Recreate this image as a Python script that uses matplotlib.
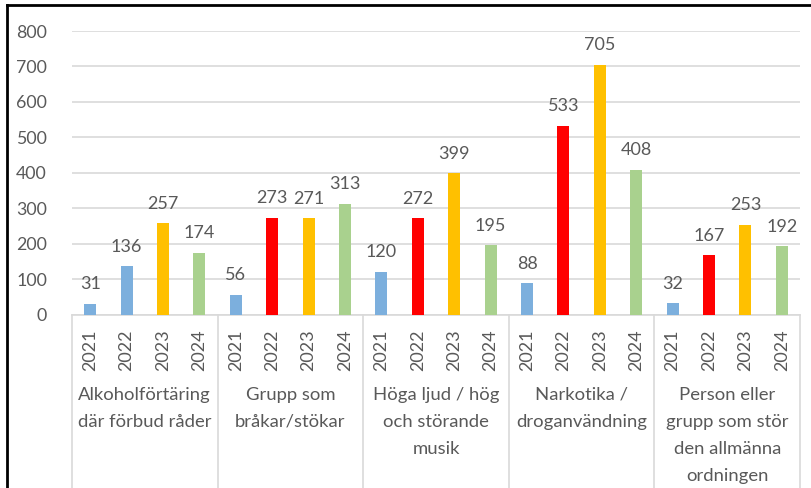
import matplotlib
matplotlib.use("Agg")
import matplotlib.pyplot as plt
from matplotlib.lines import Line2D

categories = [
    "Alkoholförtäring\ndär förbud råder",
    "Grupp som\nbråkar/stökar",
    "Höga ljud / hög\noch störande\nmusik",
    "Narkotika /\ndroganvändning",
    "Person eller\ngrupp som stör\nden allmänna\nordningen",
]
years = ["2021", "2022", "2023", "2024"]
values = [
    [31, 136, 257, 174],
    [56, 273, 271, 313],
    [120, 272, 399, 195],
    [88, 533, 705, 408],
    [32, 167, 253, 192],
]
# first group has 2022 in blue, the rest red
barColors = [
    ["#7CAFDD", "#7CAFDD", "#FFC000", "#A9D18E"],
    ["#7CAFDD", "#FF0000", "#FFC000", "#A9D18E"],
    ["#7CAFDD", "#FF0000", "#FFC000", "#A9D18E"],
    ["#7CAFDD", "#FF0000", "#FFC000", "#A9D18E"],
    ["#7CAFDD", "#FF0000", "#FFC000", "#A9D18E"],
]

TEXT = "#595959"
GRID = "#D9D9D9"
W, H = 811, 488

plt.rcParams["font.family"] = ["Lato", "DejaVu Sans"]
plt.rcParams["font.size"] = 12.8

fig = plt.figure(figsize=(W / 100, H / 100), dpi=100)
axTop, axBottom = 31, 314.5
ax = fig.add_axes([72 / W, (H - axBottom) / H, (800 - 72) / W, (axBottom - axTop) / H])

xs, hs, cs, ticks = [], [], [], []
for g, vals in enumerate(values):
    for i, v in enumerate(vals):
        x = g * len(years) + i
        xs.append(x)
        hs.append(v)
        cs.append(barColors[g][i])
        ticks.append(years[i])

ax.bar(xs, hs, width=0.33, color=cs, zorder=3)
for x, v in zip(xs, hs):
    ax.annotate(str(v), (x, v), xytext=(0, 10.5), textcoords="offset points",
                ha="center", va="baseline", color=TEXT, fontsize=13)

n = len(xs)
ax.set_xlim(-0.5, n - 0.5)
ax.set_ylim(0, 800)
ax.set_yticks(range(0, 801, 100))
ax.yaxis.grid(True, color=GRID, linewidth=1.2, zorder=0)
ax.set_xticks(xs)
ax.set_xticklabels(ticks, rotation=90, color=TEXT, fontsize=13)
ax.tick_params(axis="x", length=0, pad=11)
ax.tick_params(axis="y", length=0, pad=18, colors=TEXT)

for s in ["top", "right", "left"]:
    ax.spines[s].set_visible(False)
ax.spines["bottom"].set_color(GRID)
ax.spines["bottom"].set_linewidth(1.2)

# group separators below the axis
bottomFrac = -(H - axBottom) / (axBottom - axTop)
trans = ax.get_xaxis_transform()
for g in range(len(values) + 1):
    bx = g * len(years) - 0.5
    ax.plot([bx, bx], [0, bottomFrac], transform=trans, color=GRID,
            linewidth=1.2, clip_on=False)

for g, name in enumerate(categories):
    cx = g * len(years) + (len(years) - 1) / 2
    ax.text(cx, -0.255, name, transform=trans, ha="center", va="top",
            color=TEXT, fontsize=13.3, linespacing=1.85, multialignment="center")

# black frame from the original screenshot
fig.add_artist(Line2D([7 / W, 1], [1 - 4.5 / H, 1 - 4.5 / H], color="black", linewidth=2))
fig.add_artist(Line2D([7 / W, 7 / W], [0, 1 - 4.5 / H], color="black", linewidth=2))

fig.savefig("out.png", dpi=100)
